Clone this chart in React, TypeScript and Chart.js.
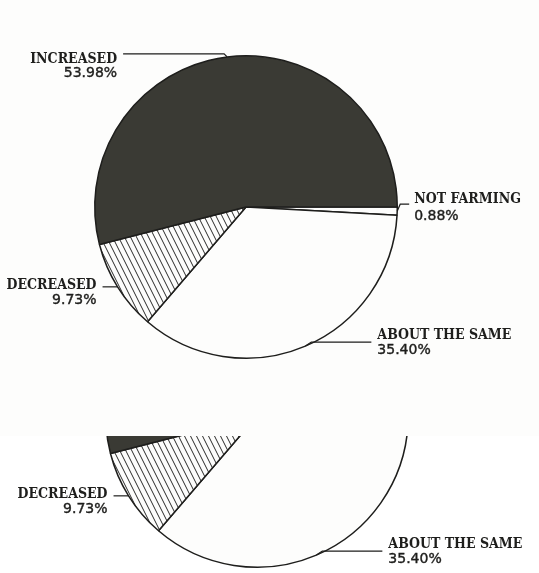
import React, { useEffect, useRef } from "react";
import { Chart, registerables } from "chart.js";

Chart.register(...registerables);

// ---- data (slices listed clockwise starting at 3 o'clock) ----
const categories = ["NOT FARMING", "ABOUT THE SAME", "DECREASED", "INCREASED"];
const shares = [0.88, 35.4, 9.73, 53.98];
const shareLabels = ["0.88%", "35.40%", "9.73%", "53.98%"];

// ---- label / leader layout (relative to each slice's mid-angle point on the rim) ----
const labelLayouts = [
  { ex: 3, ey: -7, len: 9, gap: 5, nameDy: -1, pctDy: 16 },
  { ex: 6, ey: -4, len: 60, gap: 6, nameDy: -3, pctDy: 12 },
  { ex: -7, ey: 0, len: -8, gap: 6, nameDy: 2, pctDy: 17 },
  { ex: -3, ey: -3, len: -101, gap: 6, nameDy: 9.5, pctDy: 23 },
];

const INK = "#1e1e1c";
const DARK = "#3a3a34";
const PAPER = "#fdfdfc";

function makeHatch(): CanvasPattern | string {
  const c = document.createElement("canvas");
  c.width = 6;
  c.height = 12;
  const g = c.getContext("2d");
  if (!g) return PAPER;
  g.fillStyle = PAPER;
  g.fillRect(0, 0, 6, 12);
  g.strokeStyle = "#2a2a28";
  g.lineWidth = 1;
  for (const x0 of [-6, 0, 6]) {
    g.beginPath();
    g.moveTo(x0, 0);
    g.lineTo(x0 + 6, 12);
    g.stroke();
  }
  return g.createPattern(c, "repeat") || PAPER;
}

const leaderPlugin = {
  id: "leaderLabels",
  afterDatasetsDraw(chart: any) {
    const ctx = chart.ctx as CanvasRenderingContext2D;
    const meta = chart.getDatasetMeta(0);
    ctx.save();
    meta.data.forEach((arc: any, i: number) => {
      const lay = labelLayouts[i];
      const mid = (arc.startAngle + arc.endAngle) / 2;
      const r = arc.outerRadius;
      const ax = arc.x + Math.cos(mid) * r;
      const ay = arc.y + Math.sin(mid) * r;
      const bx = ax + lay.ex;
      const by = ay + lay.ey;
      const cx = bx + lay.len;
      ctx.strokeStyle = INK;
      ctx.lineWidth = 1.2;
      ctx.beginPath();
      ctx.moveTo(ax, ay);
      ctx.lineTo(bx, by);
      ctx.lineTo(cx, by);
      ctx.stroke();
      const left = lay.len >= 0;
      const tx = left ? cx + lay.gap : cx - lay.gap;
      ctx.textAlign = left ? "left" : "right";
      ctx.textBaseline = "alphabetic";
      ctx.fillStyle = INK;
      ctx.font = 'bold 14px "DejaVu Serif Condensed", "DejaVu Serif", serif';
      ctx.fillText(categories[i], tx, by + lay.nameDy);
      ctx.font = '14px "DejaVu Sans", sans-serif';
      ctx.fillText(shareLabels[i], tx, by + lay.pctDy);
      ctx.lineWidth = 0.4;
      ctx.strokeText(shareLabels[i], tx, by + lay.pctDy);
    });
    ctx.restore();
  },
};

function PieCanvas({ style }: { style: React.CSSProperties }) {
  const ref = useRef<HTMLCanvasElement | null>(null);
  useEffect(() => {
    if (!ref.current) return;
    const hatch = makeHatch();
    const chart = new Chart(ref.current, {
      type: "pie",
      data: {
        labels: categories,
        datasets: [
          {
            data: shares,
            backgroundColor: [PAPER, PAPER, hatch as any, DARK],
            borderColor: INK,
            borderWidth: 1.5,
          },
        ],
      },
      options: {
        responsive: false,
        animation: false,
        rotation: 90,
        layout: { padding: { left: 94, right: 141, top: 55, bottom: 61 } },
        plugins: {
          legend: { display: false },
          tooltip: { enabled: false },
        },
        events: [],
      },
      plugins: [leaderPlugin],
    });
    return () => chart.destroy();
  }, []);
  return <canvas ref={ref} width={539} height={420} style={{ position: "absolute", width: 539, height: 420, ...style }} />;
}

export default function App() {
  return (
    <div
      style={{
        position: "fixed",
        left: 0,
        top: 0,
        width: 539,
        height: 573,
        background: PAPER,
        overflow: "hidden",
      }}
    >
      <PieCanvas style={{ left: 0, top: 0 }} />
      <div
        style={{
          position: "absolute",
          left: 0,
          top: 436,
          width: 539,
          height: 137,
          overflow: "hidden",
          background: "#ffffff",
        }}
      >
        <PieCanvas style={{ left: 11, top: -227 }} />
      </div>
    </div>
  );
}
